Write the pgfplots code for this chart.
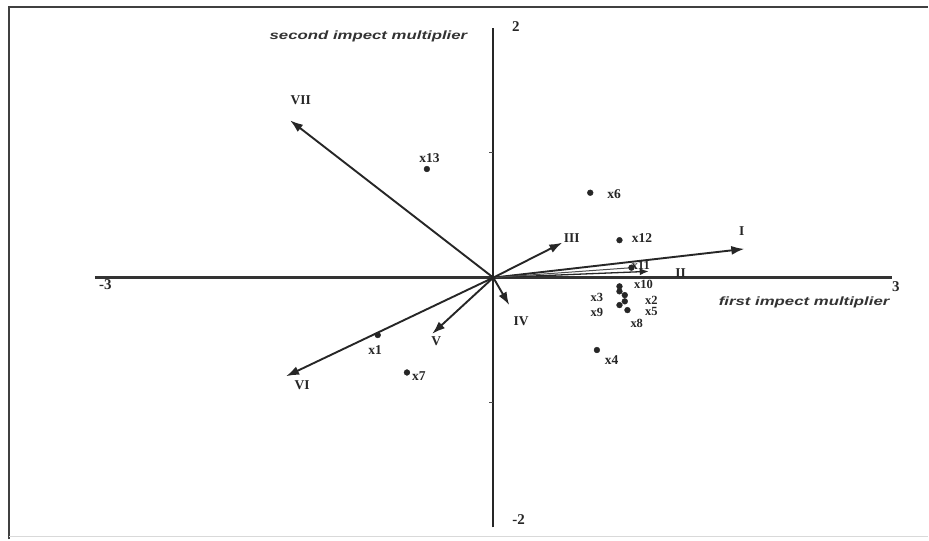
\documentclass[border=0pt]{standalone}
\usepackage{pgfplots}
\pgfplotsset{compat=1.18}
\usetikzlibrary{arrows.meta}
\usepackage{fontspec}
\setmainfont{Liberation Serif}
\setsansfont{Liberation Sans}
\tikzset{
  lab/.style={font=\fontsize{13.5bp}{13.5bp}\selectfont\bfseries, text=black!85, inner sep=0pt},
  slab/.style={font=\fontsize{12.5bp}{12.5bp}\selectfont\bfseries, text=black!85, inner sep=0pt},
  tlab/.style={font=\fontsize{15bp}{15bp}\selectfont\bfseries, text=black!85, inner sep=0pt},
  vec/.style={black!85, line width=1.9bp, -{Latex[length=13bp,width=9bp]}}}
\begin{document}
\begin{tikzpicture}
\begin{axis}[x=133bp,y=125bp,xmin=-3.714,xmax=3.271,ymin=-2.096,ymax=2.224,
  axis lines=none, clip=false]
% background and frame
\fill[white] (rel axis cs:0,0) rectangle (rel axis cs:1,1);
\draw[black!75, line width=2.5bp] (rel axis cs:0.0097,0) -- (rel axis cs:0.0097,0.987) -- (rel axis cs:1,0.987);
\draw[black!15, line width=1bp] (rel axis cs:0.0097,0.005) -- (rel axis cs:1,0.005);
% axes
\addplot[black!80, line width=2.6bp, no marks] coordinates {(-3,0) (3,0)};
\addplot[black!85, line width=2bp, no marks] coordinates {(0,-2) (0,2)};
\addplot[black!70, line width=1bp, no marks] coordinates {(-0.03,1) (0,1)};
\addplot[black!70, line width=1bp, no marks] coordinates {(-0.03,-1) (0,-1)};
% vectors
\addplot[vec] coordinates {(0,0) (1.89,0.23)};
\addplot[black!85, line width=1.3bp, -{Latex[length=9bp,width=7bp]}] coordinates {(0,0) (1.17,0.05)};
\addplot[black!70, line width=1bp, no marks] coordinates {(0,0) (1.05,0.08)};
\addplot[vec] coordinates {(0,0) (0.52,0.28)};
\addplot[vec] coordinates {(0,0) (0.12,-0.22)};
\addplot[vec] coordinates {(0,0) (-0.46,-0.45)};
\addplot[vec] coordinates {(0,0) (-1.56,-0.79)};
\addplot[vec] coordinates {(0,0) (-1.53,1.26)};
% points
\addplot[only marks, mark=*, mark size=2.9bp, black!85] coordinates {
 (-0.50,0.87) (0.73,0.68) (0.95,0.30) (0.78,-0.58) (-0.87,-0.46) (-0.65,-0.76)
 (1.04,0.08) (0.95,-0.07) (0.95,-0.11) (0.99,-0.14) (0.99,-0.19) (0.95,-0.22) (1.01,-0.26)};
% vector labels
\node[lab] at (axis cs:1.87,0.37) {I};
\node[lab] at (axis cs:1.41,0.04) {II};
\node[lab] at (axis cs:0.59,0.32) {III};
\node[lab] at (axis cs:0.21,-0.35) {IV};
\node[lab] at (axis cs:-0.43,-0.51) {V};
\node[lab] at (axis cs:-1.44,-0.86) {VI};
\node[lab] at (axis cs:-1.45,1.42) {VII};
% point labels
\node[lab] at (axis cs:-0.48,0.96) {x13};
\node[lab] at (axis cs:0.91,0.67) {x6};
\node[lab] at (axis cs:1.12,0.32) {x12};
\node[lab] at (axis cs:0.89,-0.66) {x4};
\node[lab] at (axis cs:-0.89,-0.58) {x1};
\node[lab] at (axis cs:-0.56,-0.79) {x7};
\node[slab] at (axis cs:1.11,0.10) {x11};
\node[slab] at (axis cs:1.13,-0.055) {x10};
\node[slab] at (axis cs:0.78,-0.16) {x3};
\node[slab] at (axis cs:1.19,-0.18) {x2};
\node[slab] at (axis cs:0.78,-0.28) {x9};
\node[slab] at (axis cs:1.19,-0.275) {x5};
\node[slab] at (axis cs:1.08,-0.37) {x8};
% tick labels
\node[tlab] at (axis cs:-2.92,-0.06) {-3};
\node[tlab] at (axis cs:3.03,-0.07) {3};
\node[tlab] at (axis cs:0.17,2.01) {2};
\node[tlab] at (axis cs:0.19,-1.94) {-2};
% axis titles
\node[inner sep=0pt, xscale=1.4, text=black!80, font=\sffamily\bfseries\itshape\fontsize{12bp}{12bp}\selectfont] at (axis cs:-0.94,1.93) {second impect multiplier};
\node[inner sep=0pt, xscale=1.4, text=black!80, font=\sffamily\bfseries\itshape\fontsize{12bp}{12bp}\selectfont] at (axis cs:2.34,-0.20) {first impect multiplier};
\end{axis}
\end{tikzpicture}
\end{document}
